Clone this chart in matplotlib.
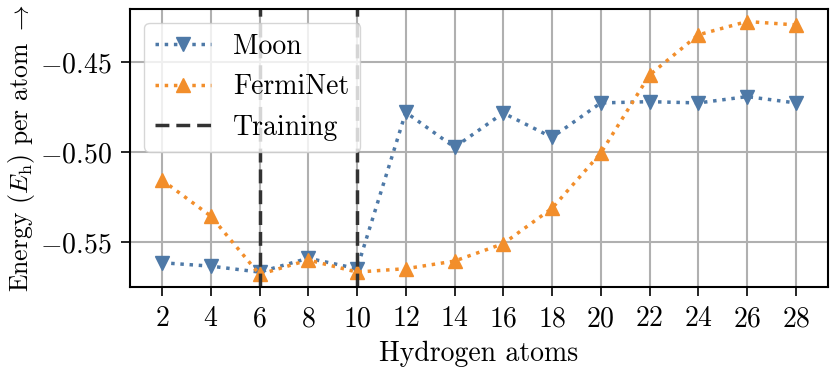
import matplotlib
matplotlib.use("Agg")
import matplotlib.pyplot as plt

plt.rcParams["font.family"] = "serif"
plt.rcParams["font.serif"] = ["cmr10"]
plt.rcParams["mathtext.fontset"] = "cm"
plt.rcParams["axes.formatter.use_mathtext"] = True
plt.rcParams["font.size"] = 20

# data
atoms = [2, 4, 6, 8, 10, 12, 14, 16, 18, 20, 22, 24, 26, 28]
moon = [-0.5613, -0.5632, -0.5665, -0.5588, -0.5646, -0.4778, -0.4972,
        -0.4782, -0.4917, -0.4726, -0.4719, -0.4726, -0.4691, -0.4726]
ferminet = [-0.5154, -0.5354, -0.5678, -0.5598, -0.5665, -0.5646, -0.5604,
            -0.5507, -0.5311, -0.5004, -0.4571, -0.4348, -0.4274, -0.4293]
training = [6, 10]

blue = "#4e79a7"
orange = "#f28e2b"

fig, ax = plt.subplots(figsize=(8.3, 3.69), dpi=100)
ax.plot(atoms, moon, linestyle=":", marker="v", color=blue, lw=2.5, ms=10, label="Moon")
ax.plot(atoms, ferminet, linestyle=":", marker="^", color=orange, lw=2.5, ms=10, label="FermiNet")
for i, t in enumerate(training):
    ax.axvline(t, color="#333333", linestyle="--", lw=2.5, dashes=(4, 2),
               label="Training" if i == 0 else None)

ax.set_xticks(atoms)
ax.set_yticks([-0.55, -0.50, -0.45])
ax.grid(True, color="#b0b0b0", lw=1.5)
ax.set_axisbelow(True)
for s in ax.spines.values():
    s.set_linewidth(1.5)
ax.tick_params(direction="out", length=6.5, width=1.2, pad=7)
ax.set_xlabel("Hydrogen atoms", labelpad=6)
ax.set_ylabel(r"Energy ($E_\mathrm{h}$) per atom $\rightarrow$", fontsize=18.5, labelpad=2)
ax.legend(loc="upper left", framealpha=0.8, edgecolor="#cccccc", fancybox=True,
          handlelength=2)

fig.subplots_adjust(left=0.157, right=0.997, top=0.976, bottom=0.222)
fig.savefig("out.png", dpi=100)
